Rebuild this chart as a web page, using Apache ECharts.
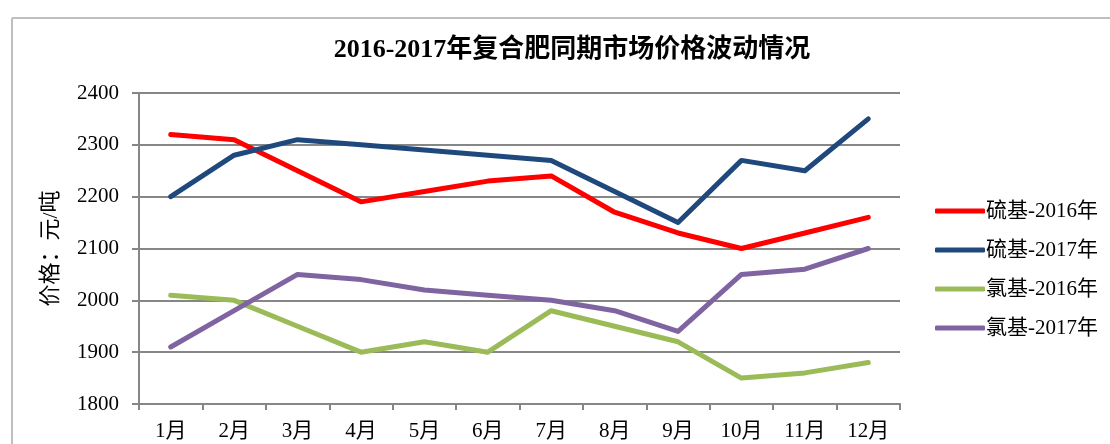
<!DOCTYPE html>
<html>
<head>
<meta charset="utf-8">
<script src="https://cdn.jsdelivr.net/npm/echarts@6/dist/echarts.min.js"></script>
<style>
  html, body { margin: 0; padding: 0; background: #fff; }
  #chart { width: 1110px; height: 444px; }
</style>
</head>
<body>
<div id="chart"></div>
<script>
// Months on the category axis
const months = ['1月', '2月', '3月', '4月', '5月', '6月', '7月', '8月', '9月', '10月', '11月', '12月'];

// Monthly compound fertilizer prices, yuan per tonne
const sulfur2016 = [2320, 2310, 2250, 2190, 2210, 2230, 2240, 2170, 2130, 2100, 2130, 2160];
const sulfur2017 = [2200, 2280, 2310, 2300, 2290, 2280, 2270, 2210, 2150, 2270, 2250, 2350];
const chlorine2016 = [2010, 2000, 1950, 1900, 1920, 1900, 1980, 1950, 1920, 1850, 1860, 1880];
const chlorine2017 = [1910, 1980, 2050, 2040, 2020, 2010, 2000, 1980, 1940, 2050, 2060, 2100];

const seriesNames = ['硫基-2016年', '硫基-2017年', '氯基-2016年', '氯基-2017年'];
const seriesData = [sulfur2016, sulfur2017, chlorine2016, chlorine2017];
const seriesColors = ['#ff0000', '#1f497d', '#9bbb59', '#8064a2'];

const serif = '"Liberation Serif", "Noto Sans CJK SC", serif';

const chart = echarts.init(document.getElementById('chart'));

chart.setOption({
  animation: false,
  title: {
    text: '2016-2017年复合肥同期市场价格波动情况',
    left: 567,
    textAlign: 'center',
    top: 32,
    textStyle: { fontFamily: serif, fontSize: 26, fontWeight: 'bold', color: '#000' }
  },
  graphic: [
    { type: 'line', shape: { x1: 12, y1: 18, x2: 1110, y2: 18 }, style: { stroke: '#bfbfbf', lineWidth: 2 } },
    { type: 'line', shape: { x1: 12, y1: 18, x2: 12, y2: 444 }, style: { stroke: '#bfbfbf', lineWidth: 2 } }
  ],
  legend: {
    orient: 'vertical',
    left: 930,
    top: 195,
    itemWidth: 50,
    itemHeight: 5,
    itemGap: 17,
    icon: 'roundRect',
    data: seriesNames,
    textStyle: { fontFamily: serif, fontSize: 21, color: '#000', padding: [0, 0, 0, -4], lineHeight: 22 }
  },
  grid: { left: 139, right: 210, top: 93, bottom: 40 },
  xAxis: {
    type: 'category',
    data: months,
    boundaryGap: true,
    axisLine: { lineStyle: { color: '#868686', width: 2 } },
    axisTick: { show: true, length: 6, lineStyle: { color: '#868686', width: 2 } },
    axisLabel: { fontFamily: serif, fontSize: 21, color: '#000', margin: 17 }
  },
  yAxis: {
    type: 'value',
    min: 1800,
    max: 2400,
    interval: 100,
    name: '价格：元/吨',
    nameLocation: 'middle',
    nameGap: 77,
    nameTextStyle: { fontFamily: serif, fontSize: 22, color: '#000' },
    axisLine: { show: true, lineStyle: { color: '#868686', width: 2 } },
    axisTick: { show: true, length: 7, lineStyle: { color: '#868686', width: 2 } },
    splitLine: { lineStyle: { color: '#868686', width: 2 } },
    axisLabel: { fontFamily: serif, fontSize: 21, color: '#000', margin: 20, formatter: v => String(v) }
  },
  series: seriesNames.map((name, i) => ({
    name: name,
    type: 'line',
    data: seriesData[i],
    symbol: 'none',
    color: seriesColors[i],
    lineStyle: { width: 5, color: seriesColors[i], cap: 'round', join: 'round' }
  }))
});
</script>
</body>
</html>
